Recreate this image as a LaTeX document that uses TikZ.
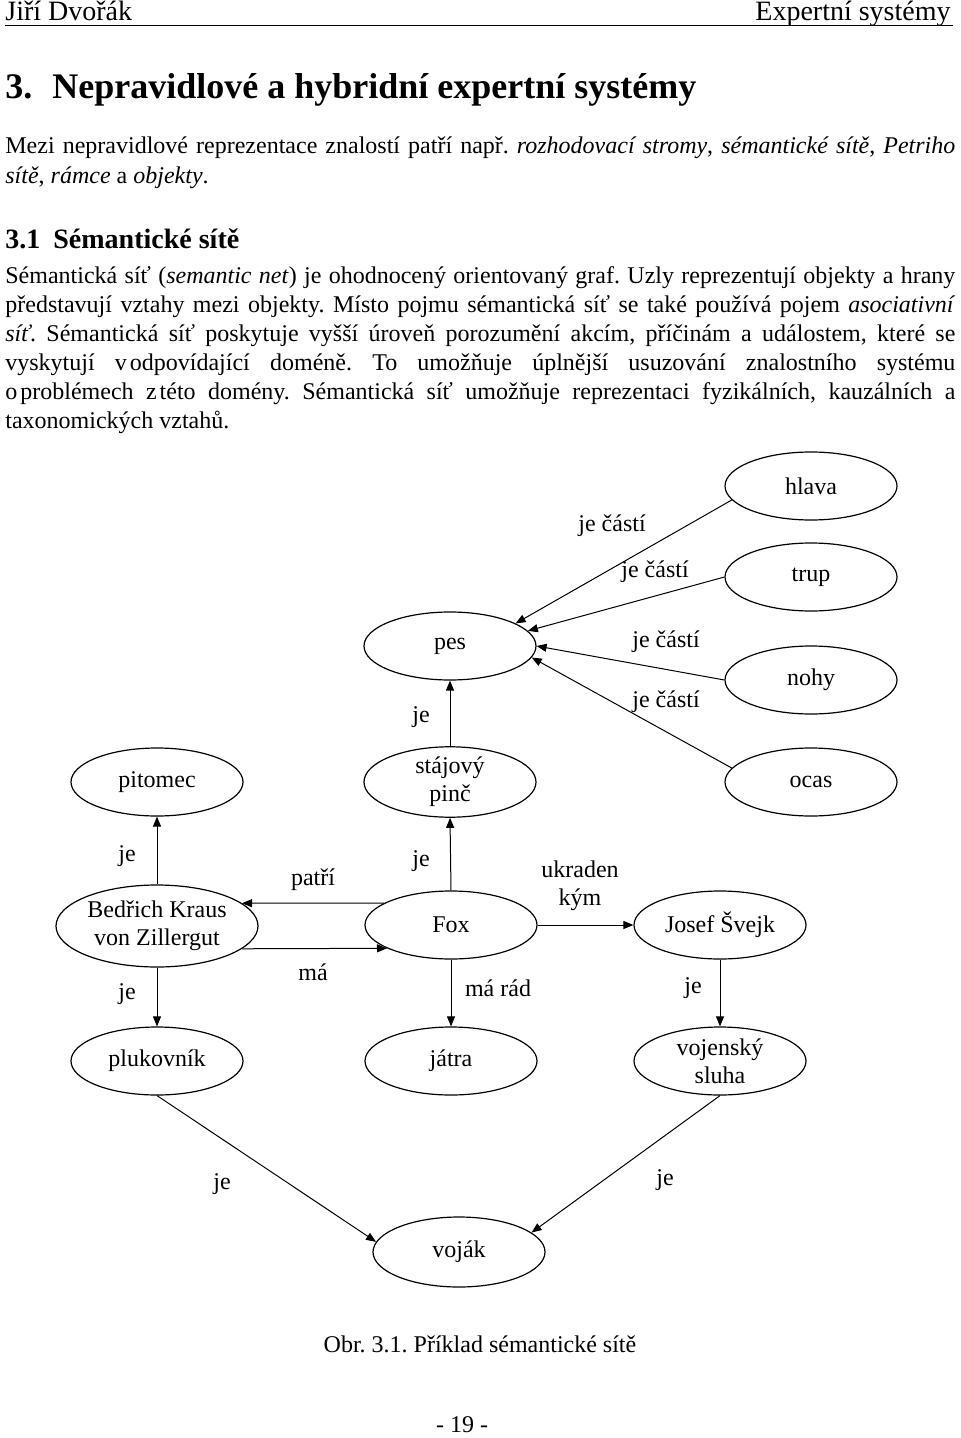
\documentclass[tikz,border=0pt]{standalone}
\usepackage{fontspec}
\setmainfont{Liberation Serif}
\usetikzlibrary{shapes.geometric,arrows.meta}
\frenchspacing
\tikzset{
  txt/.style={inner sep=0pt, anchor=base west, font=\fontsize{12}{14.5}\selectfont},
  lab/.style={inner sep=0pt, align=center, font=\fontsize{12}{14}\selectfont},
  concept/.style={ellipse, draw, line width=0.6pt, minimum width=86pt, minimum height=34pt,
    inner sep=0pt, align=center, font=\fontsize{12}{14}\selectfont},
  arr/.style={-{Triangle[length=5pt,width=4pt]}, line width=0.5pt}
}
\begin{document}
\begin{tikzpicture}[x=0.5pt,y=-0.5pt]
\path[use as bounding box] (0,0) rectangle (960,1438);
% header
\node[txt, font=\fontsize{14}{16}\selectfont] (hl) at (5,21) {Jiří Dvořák};
\node[txt, anchor=base east, font=\fontsize{14}{16}\selectfont] (hr) at (951,21) {Expertní systémy};
\draw[line width=0.6pt] (5,25.5) -- (953,25.5);
% title
\node[txt, font=\fontsize{18}{20}\bfseries] (tn) at (5,99) {3.};
\node[txt, font=\fontsize{18}{20}\bfseries] (tt) at (52,99) {Nepravidlové a hybridní expertní systémy};
% paragraph 1
\node[txt] (p1a) at (5,154) {\makebox[475pt][s]{Mezi nepravidlové reprezentace znalostí patří např. \textit{rozhodovací stromy}, \textit{sémantické sítě}, \textit{Petriho}}};
\node[txt] (p1b) at (5,184) {\textit{sítě}, \textit{rámce} a \textit{objekty}.};
% heading
\node[txt, font=\fontsize{14}{16}\bfseries] (hn) at (5,249) {3.1};
\node[txt, font=\fontsize{14}{16}\bfseries] (ht) at (53,249) {Sémantické sítě};
% paragraph 2
\node[txt] (p2a) at (5,284) {\makebox[475pt][s]{Sémantická síť (\textit{semantic net}) je ohodnocený orientovaný graf. Uzly reprezentují objekty a hrany}};
\node[txt] (p2b) at (5,313) {\makebox[475pt][s]{představují vztahy mezi objekty. Místo pojmu sémantická síť se také používá pojem \textit{asociativní}}};
\node[txt] (p2c) at (5,342) {\makebox[475pt][s]{\textit{síť}. Sémantická síť poskytuje vyšší úroveň porozumění akcím, příčinám a událostem, které se}};
\node[txt] (p2d) at (5,371) {\makebox[475pt][s]{vyskytují v\kern1.5pt odpovídající doméně. To umožňuje úplnější usuzování znalostního systému}};
\node[txt] (p2e) at (5,400) {\makebox[475pt][s]{o\kern1.5pt problémech z\kern1.5pt této domény. Sémantická síť umožňuje reprezentaci fyzikálních, kauzálních a}};
\node[txt] (p2f) at (5,429) {taxonomických vztahů.};
% diagram nodes
\node[concept] (hlava) at (811,486) {hlava};
\node[concept] (trup) at (811,577) {trup};
\node[concept] (nohy) at (811,680) {nohy};
\node[concept] (ocas) at (811,782) {ocas};
\node[concept] (pes) at (450,646) {pes};
\node[concept] (pinc) at (450,782) {stájový\\pinč};
\node[concept] (pitomec) at (157,782) {pitomec};
\node[concept, minimum width=101pt, minimum height=41pt] (bed) at (157,926) {Bedřich Kraus\\von Zillergut};
\node[concept] (pluk) at (157,1061) {plukovník};
\node[concept] (fox) at (451,925) {Fox};
\node[concept] (jatra) at (451,1061) {játra};
\node[concept] (svejk) at (720,925) {Josef Švejk};
\node[concept] (sluha) at (720,1061) {vojenský\\sluha};
\node[concept, minimum height=35pt] (vojak) at (459,1252) {voják};
% edges
\draw[arr] (hlava.190) -- (pes.19);
\draw[arr] (trup.west) -- (pes.11);
\draw[arr] (nohy.west) -- (pes.0);
\draw[arr] (ocas.170) -- (pes.-8);
\draw[arr] (pinc.north) -- (pes.south);
\draw[arr] (bed.north) -- (pitomec.south);
\draw[arr] (bed.south) -- (pluk.north);
\draw[arr] (fox.162) -- (bed.15);
\draw[arr] (bed.-15) -- (fox.200);
\draw[arr] (fox.north) -- (pinc.south);
\draw[arr] (fox.south) -- (jatra.north);
\draw[arr] (fox.east) -- (svejk.west);
\draw[arr] (svejk.south) -- (sluha.north);
\draw[arr] (pluk.south) -- (vojak.173);
\draw[arr] (sluha.south) -- (vojak.15);
% edge labels
\node[lab] (l1) at (612,526) {je částí};
\node[lab] (l2) at (655,572) {je částí};
\node[lab] (l3) at (666,642) {je částí};
\node[lab] (l4) at (666,702) {je částí};
\node[lab] (l5) at (421,717) {je};
\node[lab] (l6) at (127,856) {je};
\node[lab] (l7) at (127,994) {je};
\node[lab] (l8) at (421,861) {je};
\node[lab] (l9) at (313,880) {patří};
\node[lab] (l10) at (313,972) {má};
\node[lab] (l11) at (498,988) {má rád};
\node[lab] (l12) at (580,886) {ukraden\\kým};
\node[lab] (l13) at (693,988) {je};
\node[lab] (l14) at (222,1184) {je};
\node[lab] (l15) at (665,1180) {je};
% caption and page number
\node[txt, anchor=base] (cap) at (480,1352) {Obr. 3.1. Příklad sémantické sítě};
\node[txt, anchor=base] (pg) at (462,1432) {- 19 -};
\end{tikzpicture}
\end{document}
